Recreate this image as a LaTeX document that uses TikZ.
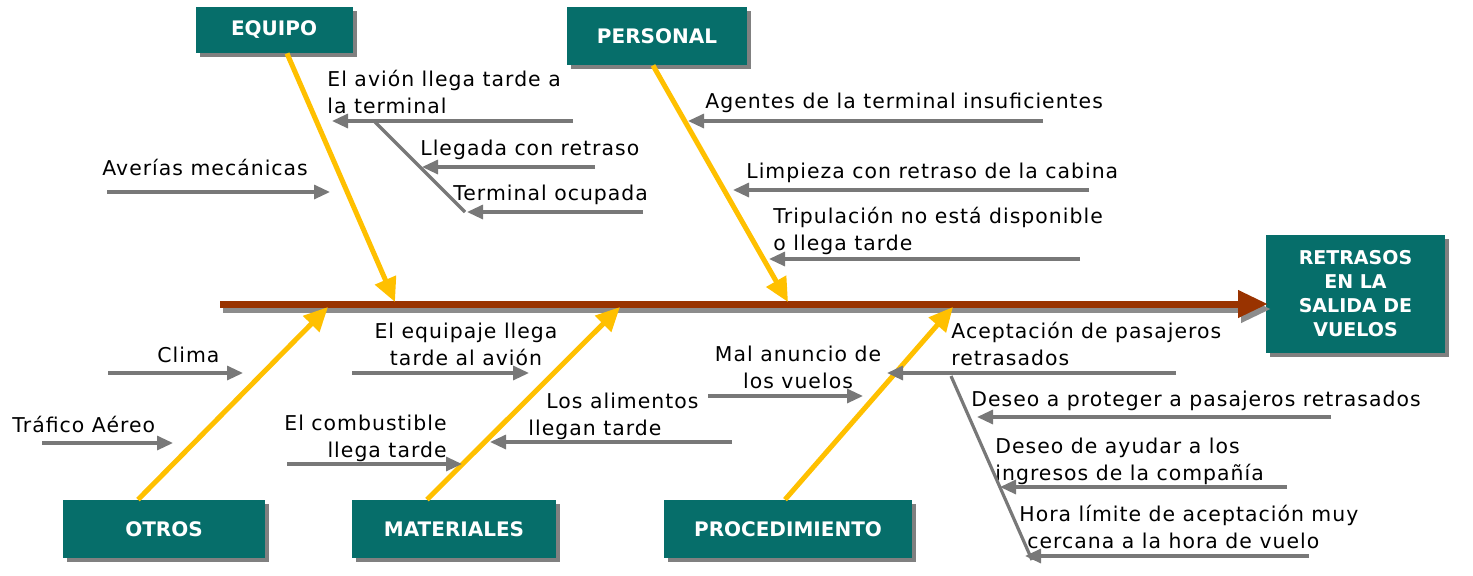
\documentclass[tikz,border=0pt]{standalone}
\usepackage{fontspec}
\setmainfont{DejaVu Sans}[LetterSpace=5]
\newfontfamily\boxfont{DejaVu Sans}
\usetikzlibrary{arrows.meta,shadows}
\definecolor{boxteal}{RGB}{6,110,106}
\definecolor{spinebrown}{RGB}{153,51,0}
\definecolor{boneyellow}{RGB}{255,192,0}
\definecolor{causegray}{RGB}{120,120,120}
\tikzset{
  catbox/.style={fill=boxteal, text=white, inner sep=0pt,
    font=\boxfont\bfseries\fontsize{10}{12}\selectfont,
    drop shadow={shadow xshift=2pt, shadow yshift=-2pt, fill=black!50, opacity=1}},
  spine/.style={spinebrown, line width=3.5pt, -{Triangle[length=15pt,width=13pt]}},
  bone/.style={boneyellow, line width=2.5pt, -{Triangle[length=12pt,width=11pt]}},
  cause/.style={causegray, line width=1.6pt, -{Triangle[length=8pt,width=7pt]}},
  subline/.style={causegray, line width=1.6pt},
  lbl/.style={font=\fontsize{10.2}{13.5}\selectfont, inner sep=0pt, anchor=base west, align=left},
}
\begin{document}
\begin{tikzpicture}[x=0.5pt, y=-0.5pt]
                \useasboundingbox (0,0) rectangle (1473,575);
                % cajas
                \node[catbox, minimum width=78.5pt, minimum height=23pt] (equipo) at (274,30) {EQUIPO};
                \node[catbox, minimum width=90pt, minimum height=29pt] (personal) at (657,36) {PERSONAL};
                \node[catbox, minimum width=101pt, minimum height=29pt] (otros) at (164,529) {OTROS};
                \node[catbox, minimum width=102pt, minimum height=29pt] (materiales) at (454,529) {MATERIALES};
                \node[catbox, minimum width=124pt, minimum height=29pt] (procedimiento) at (788,529) {PROCEDIMIENTO};
                \node[catbox, minimum width=89.5pt, minimum height=59pt, align=center,
                      font=\boxfont\bfseries\fontsize{9.5}{12}\selectfont] (efecto) at (1355.5,294) {RETRASOS\\EN LA\\SALIDA DE\\VUELOS};
                % espina
                \coordinate (tail) at (220,304);
                \coordinate (head) at (1268,304);
                \draw[spine, black!45] ([shift={(3,5)}]tail) -- ([shift={(3,5)}]head);
                \draw[spine] (tail) -- (head);
                \coordinate (eq-tip) at (395,302);
                \coordinate (pe-tip) at (788,302);
                \coordinate (ot-tip) at (328,307);
                \coordinate (ma-tip) at (620,307);
                \coordinate (pr-tip) at (953,307);
                \draw[bone] ([xshift=6.5pt]equipo.south) -- (eq-tip);
                \draw[bone] ([xshift=-2pt]personal.south) -- (pe-tip);
                \draw[bone] ([xshift=-13pt]otros.north) -- (ot-tip);
                \draw[bone] ([xshift=-13.5pt]materiales.north) -- (ma-tip);
                \draw[bone] ([xshift=-1.5pt]procedimiento.north) -- (pr-tip);
                % causas EQUIPO
                \node[lbl] (averias) at (102,175) {Averías mecánicas};
                \node[lbl] (avion) at (327,113) {El avión llega tarde a\\la terminal};
                \node[lbl] (llegada) at (420,155) {Llegada con retraso};
                \node[lbl] (ocupada) at (453,200) {Terminal ocupada};
                \coordinate (averias-a) at (107,192);
                \coordinate (averias-b) at (330,192);
                \coordinate (avion-a) at (573,121);
                \coordinate (avion-b) at (332,121);
                \coordinate (avion-c) at (375,122);
                \coordinate (avion-d) at (465,212);
                \coordinate (llegada-a) at (595,167);
                \coordinate (llegada-b) at (422,167);
                \coordinate (ocupada-a) at (643,212);
                \coordinate (ocupada-b) at (467,212);
                \draw[cause] (averias-a) -- (averias-b);
                \draw[cause] (avion-a) -- (avion-b);
                \draw[subline] (avion-c) -- (avion-d);
                \draw[cause] (llegada-a) -- (llegada-b);
                \draw[cause] (ocupada-a) -- (ocupada-b);
                % causas PERSONAL
                \node[lbl] (agentes) at (705,108) {Agentes de la terminal insuficientes};
                \node[lbl] (limpieza) at (746,178) {Limpieza con retraso de la cabina};
                \node[lbl] (tripulacion) at (773,250) {Tripulación no está disponible\\o llega tarde};
                \coordinate (agentes-a) at (1043,121);
                \coordinate (agentes-b) at (688,121);
                \coordinate (limpieza-a) at (1089,190);
                \coordinate (limpieza-b) at (733,190);
                \coordinate (tripulacion-a) at (1080,259);
                \coordinate (tripulacion-b) at (769,259);
                \draw[cause] (agentes-a) -- (agentes-b);
                \draw[cause] (limpieza-a) -- (limpieza-b);
                \draw[cause] (tripulacion-a) -- (tripulacion-b);
                % causas OTROS
                \node[lbl] (clima) at (157,362) {Clima};
                \node[lbl] (trafico) at (12,432) {Tráfico Aéreo};
                \coordinate (clima-a) at (108,373);
                \coordinate (clima-b) at (243,373);
                \coordinate (trafico-a) at (42,443);
                \coordinate (trafico-b) at (173,443);
                \draw[cause] (clima-a) -- (clima-b);
                \draw[cause] (trafico-a) -- (trafico-b);
                % causas MATERIALES
                \node[lbl, anchor=base, align=center] (equipaje) at (466,365) {El equipaje llega\\tarde al avión};
                \node[lbl, anchor=base east, align=right] (combustible) at (447,457) {El combustible\\llega tarde};
                \node[lbl] (alimentos) at (528,435) {\hspace*{9pt}Los alimentos\\llegan tarde};
                \coordinate (equipaje-a) at (352,373);
                \coordinate (equipaje-b) at (529,373);
                \coordinate (combustible-a) at (287,464);
                \coordinate (combustible-b) at (462,464);
                \coordinate (alimentos-a) at (732,442);
                \coordinate (alimentos-b) at (490,442);
                \draw[cause] (equipaje-a) -- (equipaje-b);
                \draw[cause] (combustible-a) -- (combustible-b);
                \draw[cause] (alimentos-a) -- (alimentos-b);
                % causas PROCEDIMIENTO
                \node[lbl, anchor=base, align=center] (anuncio) at (798,388) {Mal anuncio de\\los vuelos};
                \node[lbl] (aceptacion) at (951,365) {Aceptación de pasajeros\\retrasados};
                \node[lbl] (proteger) at (971,406) {Deseo a proteger a pasajeros retrasados};
                \node[lbl] (ingresos) at (995,480) {Deseo de ayudar a los\\ingresos de la compañía};
                \node[lbl] (horalimite) at (1019,548) {Hora límite de aceptación muy\\\hspace*{4pt}cercana a la hora de vuelo};
                \coordinate (anuncio-a) at (708,396);
                \coordinate (anuncio-b) at (863,396);
                \coordinate (aceptacion-a) at (1176,373);
                \coordinate (aceptacion-b) at (887,373);
                \coordinate (aceptacion-c) at (951,376);
                \coordinate (aceptacion-d) at (1032,560);
                \coordinate (proteger-a) at (1331,417);
                \coordinate (proteger-b) at (977,417);
                \coordinate (ingresos-a) at (1287,487);
                \coordinate (ingresos-b) at (1000,487);
                \coordinate (horalimite-a) at (1309,556);
                \coordinate (horalimite-b) at (1025,556);
                \draw[cause] (anuncio-a) -- (anuncio-b);
                \draw[cause] (aceptacion-a) -- (aceptacion-b);
                \draw[subline] (aceptacion-c) -- (aceptacion-d);
                \draw[cause] (proteger-a) -- (proteger-b);
                \draw[cause] (ingresos-a) -- (ingresos-b);
                \draw[cause] (horalimite-a) -- (horalimite-b);
\end{tikzpicture}
\end{document}
